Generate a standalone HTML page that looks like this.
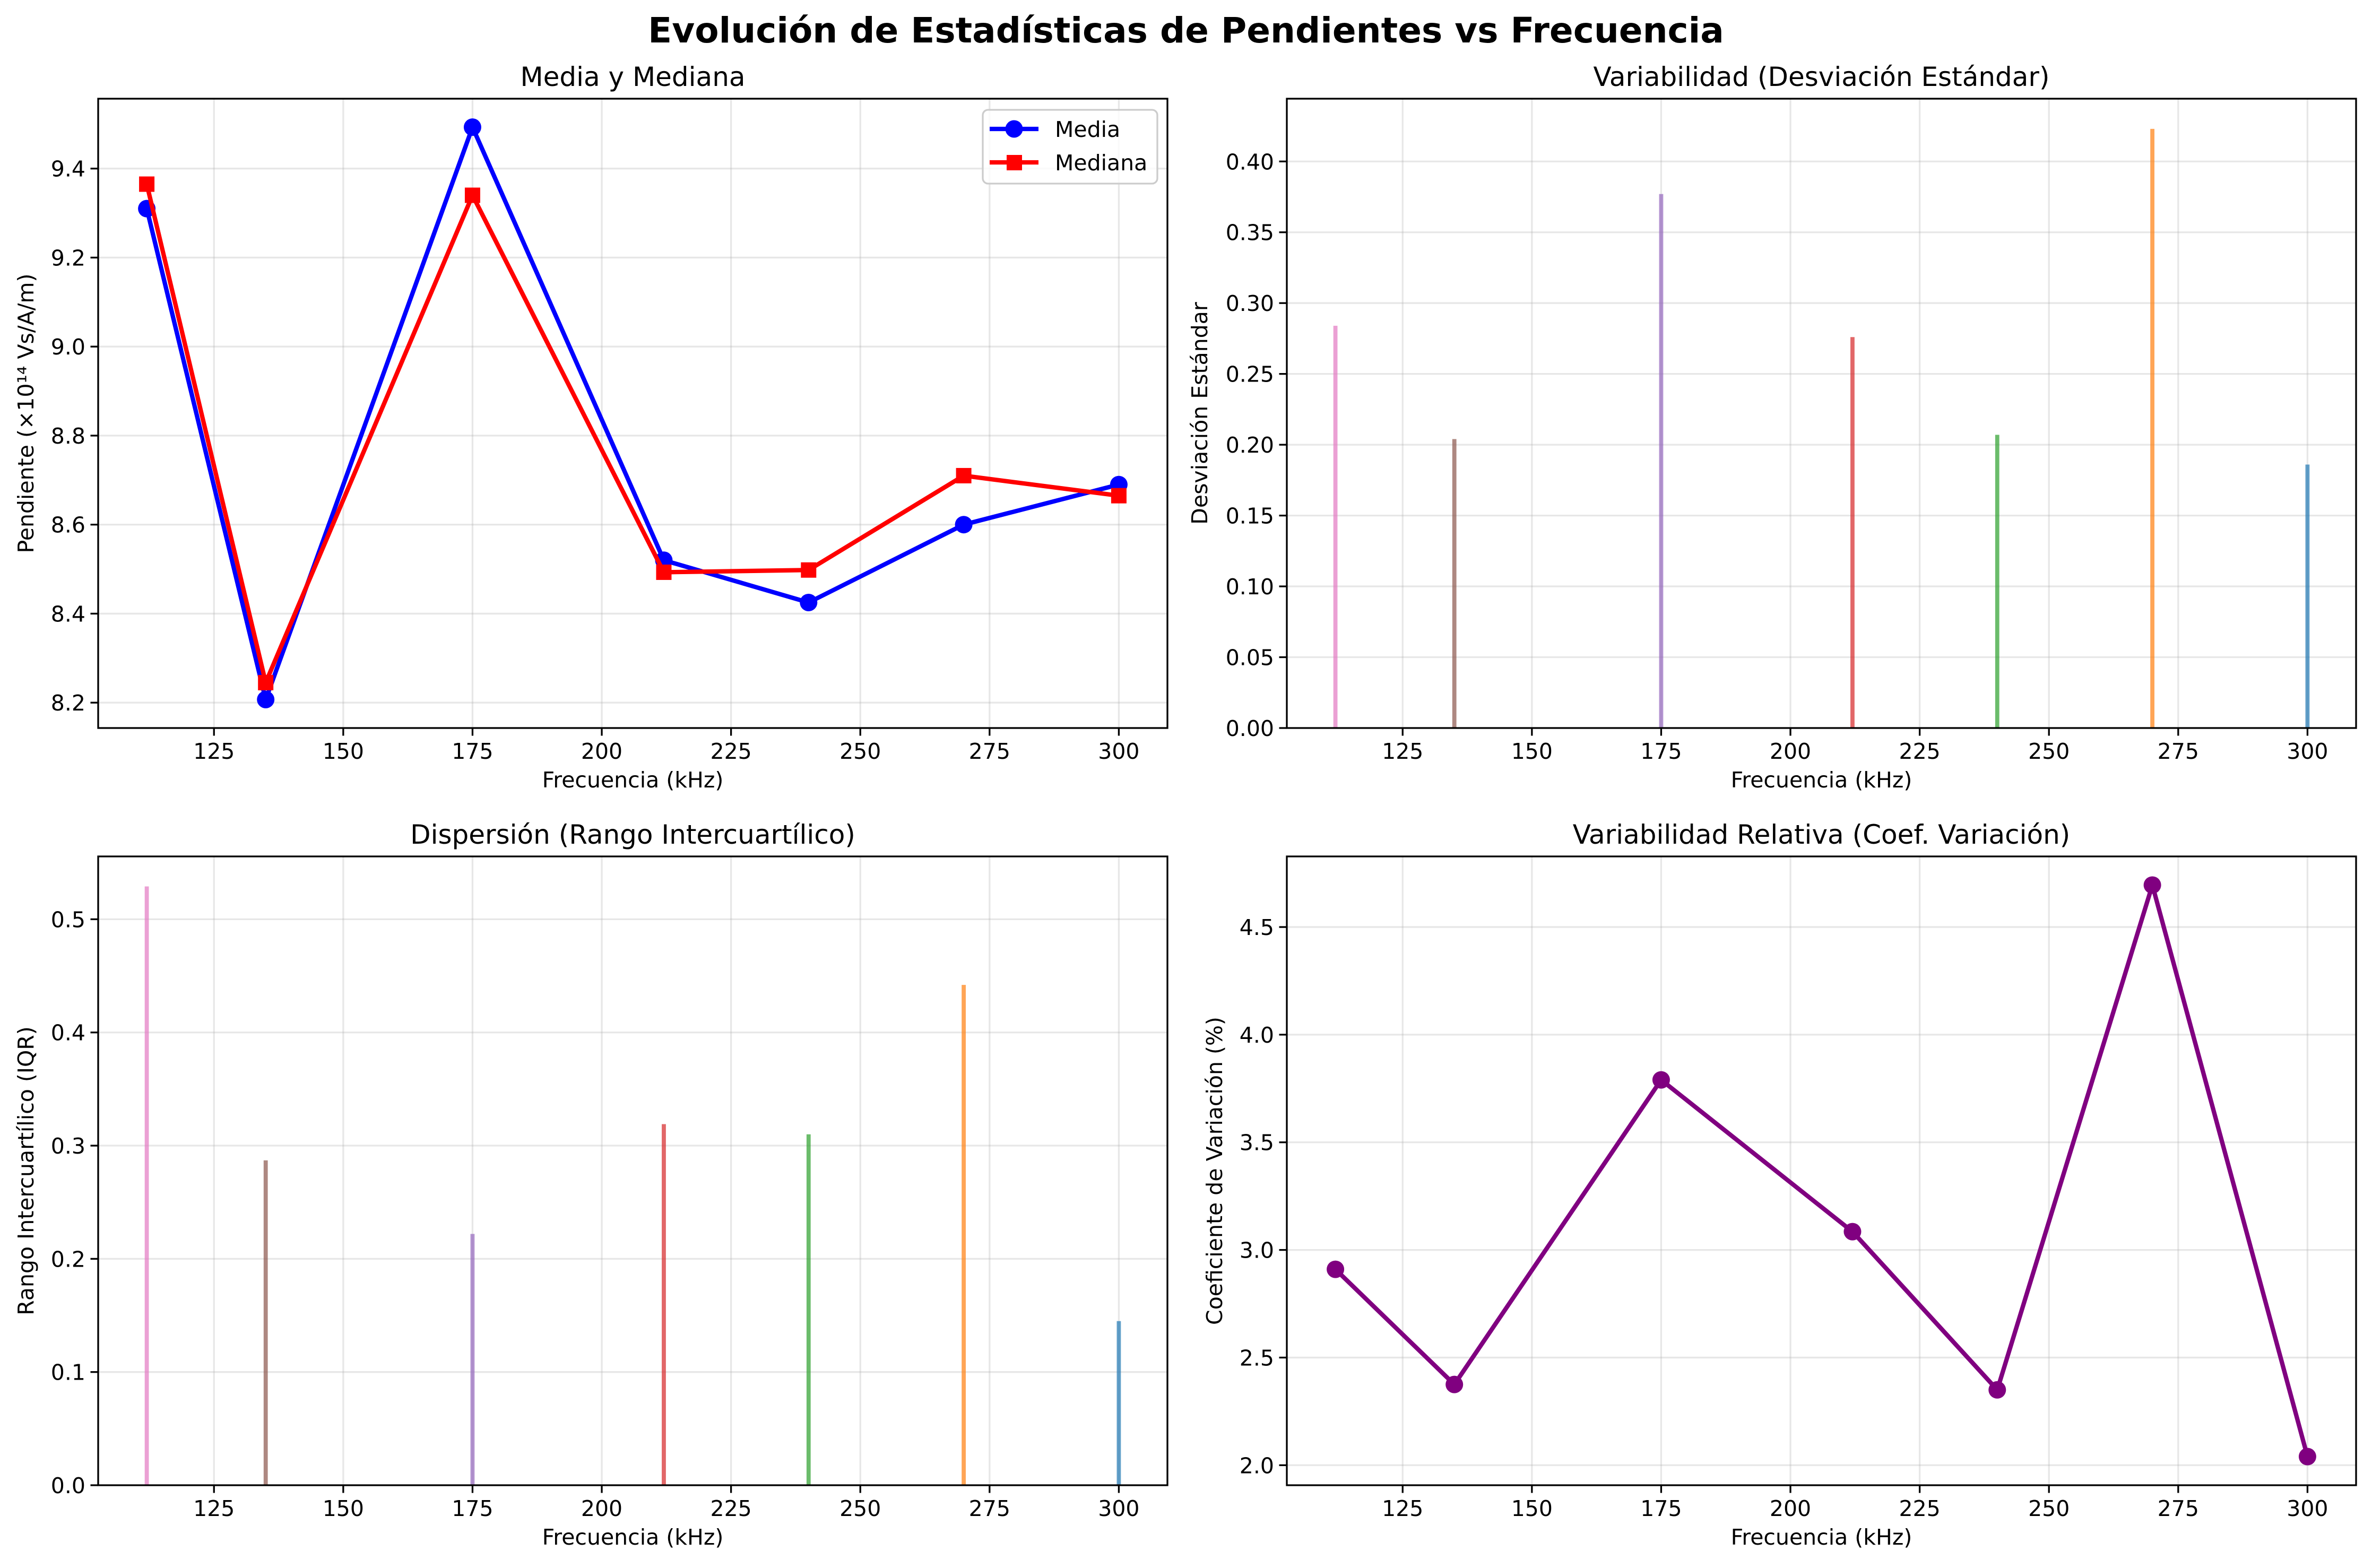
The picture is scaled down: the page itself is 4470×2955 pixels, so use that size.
<!DOCTYPE html>
<html><head><meta charset="utf-8"><style>
html,body{margin:0;padding:0;background:#fff}
svg{display:block}
text{font-family:"DejaVu Sans","Liberation Sans",sans-serif;fill:#000}
</style></head><body>
<svg id="fig" width="4470" height="2955" viewBox="0 0 4470 2955" xmlns="http://www.w3.org/2000/svg">
<rect width="4470" height="2955" fill="#fff"/>
<text x="2235" y="80" font-size="66" font-weight="bold" text-anchor="middle">Evolución de Estadísticas de Pendientes vs Frecuencia</text>
</svg>
<script>
const freqs = [112, 135, 175, 212, 240, 270, 300];
const media = [9.31, 8.207, 9.493, 8.52, 8.425, 8.60, 8.69];
const mediana = [9.365, 8.245, 9.34, 8.493, 8.498, 8.71, 8.665];
const stdVals = [0.284, 0.204, 0.377, 0.276, 0.207, 0.423, 0.186];
const iqrVals = [0.529, 0.287, 0.222, 0.319, 0.310, 0.442, 0.145];
const cvVals = [2.91, 2.375, 3.79, 3.085, 2.35, 4.695, 2.04];
const xTicks = [125, 150, 175, 200, 225, 250, 275, 300];
const ticksMedia = [8.2, 8.4, 8.6, 8.8, 9.0, 9.2, 9.4];
const ticksStd = [0, 0.05, 0.10, 0.15, 0.20, 0.25, 0.30, 0.35, 0.40];
const ticksIqr = [0, 0.1, 0.2, 0.3, 0.4, 0.5];
const ticksCv = [2.0, 2.5, 3.0, 3.5, 4.0, 4.5];
const barColors = ['#e377c2','#8c564b','#9467bd','#d62728','#2ca02c','#ff7f0e','#1f77b4'];

const NS='http://www.w3.org/2000/svg';
const svg=document.getElementById('fig');
function mk(tag,attrs,parent,txt){const e=document.createElementNS(NS,tag);for(const k in attrs)e.setAttribute(k,attrs[k]);if(txt!==undefined)e.textContent=txt;(parent||svg).appendChild(e);return e;}

function axes(name,L,T,R,B,ymin,ymax,yt,fmt,title,ylabel,yoff){
  const xmin=102.6,xmax=309.4;
  const g=mk('g',{});
  
  
  const sx=v=>L+(v-xmin)/(xmax-xmin)*(R-L);
  const sy=v=>B-(v-ymin)/(ymax-ymin)*(B-T);
  xTicks.forEach(t=>{const x=sx(t);
    const gl=mk('line',{x1:x,x2:x,y1:T,y2:B,stroke:'#b0b0b0','stroke-opacity':0.3,'stroke-width':3.3},g);
    
    mk('line',{x1:x,x2:x,y1:B,y2:B+14.5,stroke:'#000','stroke-width':3.3},g);
    const tl=mk('text',{x:x,y:B+58,'font-size':41,'text-anchor':'middle'},g,String(t));
    
  });
  yt.forEach(t=>{const y=sy(t);
    const gl=mk('line',{x1:L,x2:R,y1:y,y2:y,stroke:'#b0b0b0','stroke-opacity':0.3,'stroke-width':3.3},g);
    
    mk('line',{x1:L-14.5,x2:L,y1:y,y2:y,stroke:'#000','stroke-width':3.3},g);
    const tl=mk('text',{x:L-24,y:y+15,'font-size':41,'text-anchor':'end'},g,fmt(t));
    
  });
  const tt=mk('text',{x:(L+R)/2,y:T-24,'font-size':50,'text-anchor':'middle'},g,title);
  
  const xl=mk('text',{x:(L+R)/2,y:B+112,'font-size':41,'text-anchor':'middle'},g,'Frecuencia (kHz)');
  
  const yx=L-yoff;
  const yl=mk('text',{x:yx,y:(T+B)/2,'font-size':41,'text-anchor':'middle',transform:`rotate(-90 ${yx} ${(T+B)/2})`},g,ylabel);
  
  return {g,sx,sy,L,T,R,B};
}
function frame(a){const r=mk('rect',{x:a.L,y:a.T,width:a.R-a.L,height:a.B-a.T,fill:'none',stroke:'#000','stroke-width':3.3},a.g);
  }
function lineSeries(a,vals,color,marker,name){
  const pts=freqs.map((f,i)=>a.sx(f)+','+a.sy(vals[i])).join(' ');
  const pl=mk('polyline',{points:pts,fill:'none',stroke:color,'stroke-width':8.3,'stroke-linejoin':'round'},a.g);
  
  freqs.forEach((f,i)=>{const x=a.sx(f),y=a.sy(vals[i]);let m;
    if(marker==='o')m=mk('circle',{cx:x,cy:y,r:16.5,fill:color},a.g);
    else m=mk('rect',{x:x-14.5,y:y-14.5,width:29,height:29,fill:color},a.g);
    });
}
function bars(a,vals,name){
  freqs.forEach((f,i)=>{const x0=a.sx(f-0.4),x1=a.sx(f+0.4),y=a.sy(vals[i]);
    const b=mk('rect',{x:x0,y:y,width:x1-x0,height:a.B-y,fill:barColors[i],'fill-opacity':0.7},a.g);
    });
}
const f1=v=>v.toFixed(1), f2=v=>v.toFixed(2);

const a1=axes('panel-media',185,186,2200,1372,8.143,9.557,ticksMedia,f1,'Media y Mediana','Pendiente (×10¹⁴ Vs/A/m)',122);
lineSeries(a1,media,'#0000ff','o','media');
lineSeries(a1,mediana,'#ff0000','s','mediana');
frame(a1);
const lg=mk('g',{});

mk('rect',{x:1852,y:207,width:329,height:139,rx:10,fill:'#fff','fill-opacity':0.8,stroke:'#ccc','stroke-width':3.3},lg);
mk('line',{x1:1865,x2:1957,y1:243,y2:243,stroke:'#0000ff','stroke-width':8.3},lg);
mk('circle',{cx:1911,cy:243,r:16.5,fill:'#0000ff'},lg);
const le1=mk('text',{x:1988,y:258,'font-size':41},lg,'Media');

mk('line',{x1:1865,x2:1957,y1:306,y2:306,stroke:'#ff0000','stroke-width':8.3},lg);
mk('rect',{x:1897,y:292,width:29,height:29,fill:'#ff0000'},lg);
const le2=mk('text',{x:1988,y:321,'font-size':41},lg,'Mediana');


const a2=axes('panel-std',2425,186,4440,1372,0,0.4443,ticksStd,f2,'Variabilidad (Desviación Estándar)','Desviación Estándar',150);
bars(a2,stdVals,'std');frame(a2);
const a3=axes('panel-iqr',185,1614,2200,2799,0,0.5555,ticksIqr,f1,'Dispersión (Rango Intercuartílico)','Rango Intercuartílico (IQR)',122);
bars(a3,iqrVals,'iqr');frame(a3);
const a4=axes('panel-cv',2425,1614,4440,2799,1.907,4.828,ticksCv,f1,'Variabilidad Relativa (Coef. Variación)','Coeficiente de Variación (%)',122);
lineSeries(a4,cvVals,'#800080','o','cv');frame(a4);
</script>
</body></html>
